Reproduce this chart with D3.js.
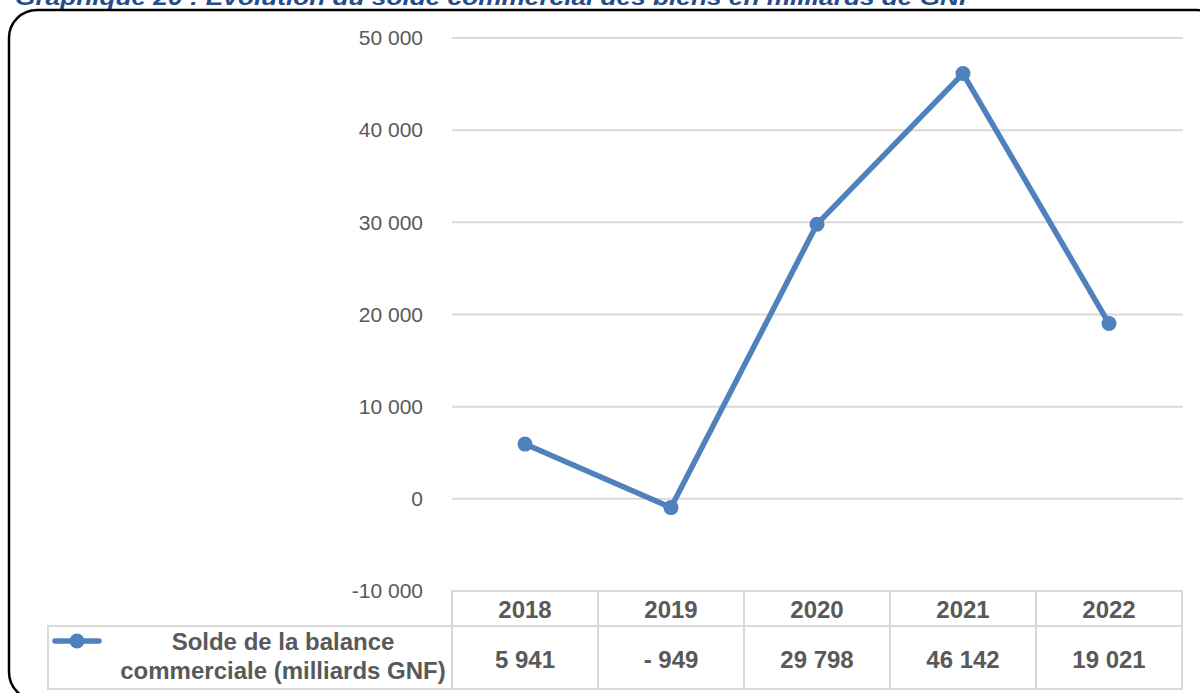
<!DOCTYPE html>
<html>
<head>
<meta charset="utf-8">
<script src="https://cdn.jsdelivr.net/npm/d3@7"></script>
<style>
  body { margin: 0; background: #fff; }
  svg { display: block; }
</style>
</head>
<body>
<svg width="1200" height="693"></svg>
<script>
// data
var years = ["2018", "2019", "2020", "2021", "2022"];
var solde = [5941, -949, 29798, 46142, 19021];
var yTicks = [-10000, 0, 10000, 20000, 30000, 40000, 50000];
var seriesName = ["Solde de la balance", "commerciale (milliards GNF)"];
var title = "Graphique 20 : Evolution du solde commercial des biens en milliards de GNF";

var svg = d3.select("svg"),
    width = +svg.attr("width"),
    height = +svg.attr("height");

var blue = "#4F81BD",
    grey = "#595959",
    grid = "#d9d9d9";

// french number format
var fr = d3.formatLocale({decimal: ",", thousands: " ", grouping: [3], currency: ["", ""], minus: "-"});
var fmt = fr.format(",d");
function cellFmt(v) { return v < 0 ? "- " + fmt(-v) : fmt(v); }

// scales
var x = d3.scaleBand().domain(years).range([452, 1182]);
var y = d3.scaleLinear().domain([-10000, 50000]).range([591, 38]);

// title (cut at top of picture, like the source)
svg.append("text")
    .attr("x", 15)
    .attr("y", 5)
    .attr("textLength", 960)
    .attr("lengthAdjust", "spacingAndGlyphs")
    .style("font-family", "Liberation Sans, Arial, sans-serif")
    .style("font-weight", "bold")
    .style("font-style", "italic")
    .style("font-size", "22px")
    .style("fill", "#244C8A")
    .text(title);

// frame
svg.append("rect")
    .attr("x", 9).attr("y", 10)
    .attr("width", 1215).attr("height", 690)
    .attr("rx", 28).attr("ry", 28)
    .style("fill", "none")
    .style("stroke", "#000")
    .style("stroke-width", 2.5);

// gridlines
svg.append("g")
  .selectAll("line")
  .data(yTicks.filter(function(d){ return d > -10000; }))
  .enter().append("line")
    .attr("x1", 452).attr("x2", 1183)
    .attr("y1", function(d){ return y(d); })
    .attr("y2", function(d){ return y(d); })
    .style("stroke", grid)
    .style("stroke-width", 2);

// y axis labels
var yAxis = svg.append("g")
    .attr("transform", "translate(432,0)")
    .call(d3.axisLeft(y).tickValues(yTicks).tickSize(0).tickPadding(9).tickFormat(fmt));
yAxis.select(".domain").remove();
yAxis.selectAll("text")
    .style("font-family", "Liberation Sans, Arial, sans-serif")
    .style("font-size", "21px")
    .style("fill", grey);

// line
var line = d3.line()
    .x(function(d, i){ return x(years[i]) + x.bandwidth() / 2; })
    .y(function(d){ return y(d); });

svg.append("path")
    .datum(solde)
    .attr("d", line)
    .style("fill", "none")
    .style("stroke", blue)
    .style("stroke-width", 5.5)
    .style("stroke-linejoin", "round");

svg.append("g")
  .selectAll("circle")
  .data(solde)
  .enter().append("circle")
    .attr("cx", function(d, i){ return x(years[i]) + x.bandwidth() / 2; })
    .attr("cy", function(d){ return y(d); })
    .attr("r", 7.5)
    .style("fill", blue);

// data table
var rowTop = 591, rowMid = 626, rowBot = 689, legLeft = 48;
var tbl = svg.append("g");

// header cells
tbl.selectAll(".hcell")
  .data(years)
  .enter().append("rect")
    .attr("x", function(d){ return x(d); })
    .attr("y", rowTop)
    .attr("width", x.bandwidth())
    .attr("height", rowMid - rowTop)
    .style("fill", "none").style("stroke", grid).style("stroke-width", 2);

// value cells
tbl.selectAll(".vcell")
  .data(years)
  .enter().append("rect")
    .attr("x", function(d){ return x(d); })
    .attr("y", rowMid)
    .attr("width", x.bandwidth())
    .attr("height", rowBot - rowMid)
    .style("fill", "none").style("stroke", grid).style("stroke-width", 2);

// legend cell
tbl.append("rect")
    .attr("x", legLeft).attr("y", rowMid)
    .attr("width", 452 - legLeft).attr("height", rowBot - rowMid)
    .style("fill", "none").style("stroke", grid).style("stroke-width", 2);

var tfont = function(sel) {
  sel.style("font-family", "Liberation Sans, Arial, sans-serif")
     .style("font-weight", "bold")
     .style("font-size", "24px")
     .style("fill", grey)
     .attr("text-anchor", "middle");
};

tbl.selectAll(".htext")
  .data(years)
  .enter().append("text")
    .attr("x", function(d){ return x(d) + x.bandwidth() / 2; })
    .attr("y", 617.5)
    .call(tfont)
    .text(function(d){ return d; });

tbl.selectAll(".vtext")
  .data(solde)
  .enter().append("text")
    .attr("x", function(d, i){ return x(years[i]) + x.bandwidth() / 2; })
    .attr("y", 667.5)
    .call(tfont)
    .text(cellFmt);

tbl.selectAll(".ltext")
  .data(seriesName)
  .enter().append("text")
    .attr("x", 283)
    .attr("y", function(d, i){ return 649.5 + i * 29; })
    .call(tfont)
    .text(function(d){ return d; });

// legend symbol
tbl.append("line")
    .attr("x1", 55).attr("x2", 99)
    .attr("y1", 641).attr("y2", 641)
    .style("stroke", blue).style("stroke-width", 5.5).style("stroke-linecap", "round");
tbl.append("circle")
    .attr("cx", 77).attr("cy", 641).attr("r", 7.5)
    .style("fill", blue);
</script>
</body>
</html>
